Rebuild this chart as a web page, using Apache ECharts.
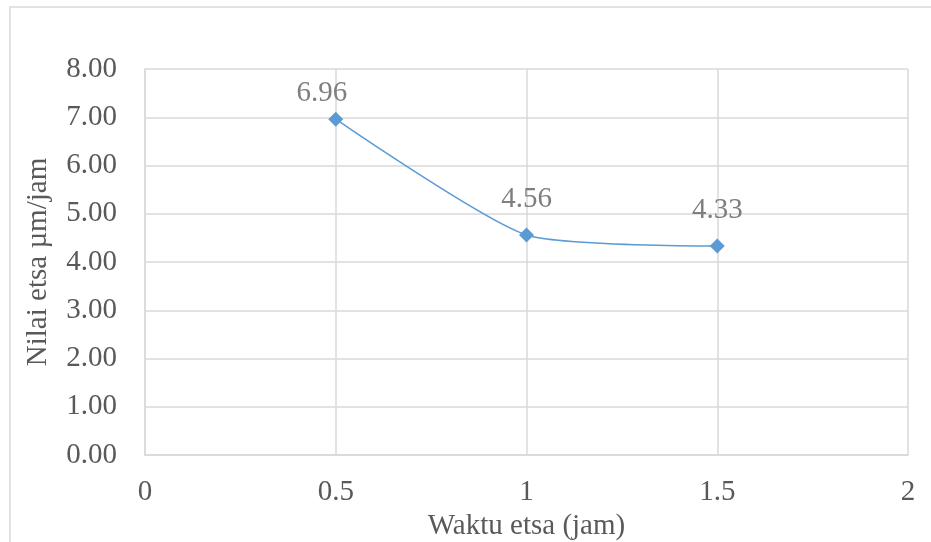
<!DOCTYPE html>
<html>
<head>
<meta charset="utf-8">
<script src="https://cdn.jsdelivr.net/npm/echarts@6/dist/echarts.min.js"></script>
<style>
  html, body { margin: 0; padding: 0; background: #ffffff; }
  #chart { width: 931px; height: 542px; }
</style>
</head>
<body>
<div id="chart"></div>
<script>
// Etching time (hours) and etch rate (µm/hour)
const waktu = [0.5, 1, 1.5];
const nilaiEtsa = [6.96, 4.56, 4.33];

const xName = 'Waktu etsa (jam)';
const yName = 'Nilai etsa µm/jam';

const serifFont = '"Liberation Serif", "Times New Roman", serif';
const gridColor = '#d9d9d9';
const textSize = 29;

const chart = echarts.init(document.getElementById('chart'), null, { renderer: 'canvas' });

// label placement per point (the first label sits a little to the left)
const labelOffsets = [[-14, 10], [0, 0], [0, 0]];

const points = waktu.map((x, i) => ({
  value: [x, nilaiEtsa[i]],
  label: { offset: labelOffsets[i] }
}));

chart.setOption({
  animation: false,
  backgroundColor: '#ffffff',
  graphic: [{
    type: 'rect',
    shape: { x: 10, y: 7, width: 960, height: 600 },
    style: { fill: 'none', stroke: gridColor, lineWidth: 1.5 },
    silent: true,
    z: -1
  }],
  grid: {
    left: 145, top: 69, width: 763, height: 386,
    containLabel: false,
    outerBoundsMode: 'none'
  },
  xAxis: {
    type: 'value',
    min: 0,
    max: 2,
    interval: 0.5,
    name: xName,
    nameLocation: 'middle',
    nameGap: 49,
    nameTextStyle: { fontFamily: serifFont, fontSize: textSize, color: '#595959' },
    axisLine: { show: true, lineStyle: { color: gridColor, width: 1.5 } },
    axisTick: { show: false },
    axisLabel: { fontFamily: serifFont, fontSize: textSize, color: '#595959', margin: 23 },
    splitLine: { show: true, lineStyle: { color: gridColor, width: 1.5 } }
  },
  yAxis: {
    type: 'value',
    min: 0,
    max: 8,
    interval: 1,
    name: yName,
    nameLocation: 'middle',
    nameGap: 92,
    nameRotate: 90,
    nameTextStyle: { fontFamily: serifFont, fontSize: textSize, color: '#595959' },
    axisLine: { show: true, lineStyle: { color: gridColor, width: 1.5 } },
    axisTick: { show: false },
    axisLabel: {
      fontFamily: serifFont, fontSize: textSize, color: '#595959', margin: 28,
      formatter: v => v.toFixed(2)
    },
    splitLine: { show: true, lineStyle: { color: gridColor, width: 1.5 } }
  },
  series: [{
    type: 'line',
    data: points,
    smooth: 0.2,
    symbol: 'diamond',
    symbolSize: 15,
    itemStyle: { color: '#5b9bd5' },
    lineStyle: { color: '#5b9bd5', width: 1.5 },
    label: {
      show: true,
      position: 'top',
      distance: 14,
      fontFamily: serifFont,
      fontSize: textSize,
      color: '#7f7f7f',
      formatter: p => p.value[1].toFixed(2)
    }
  }]
});
</script>
</body>
</html>
